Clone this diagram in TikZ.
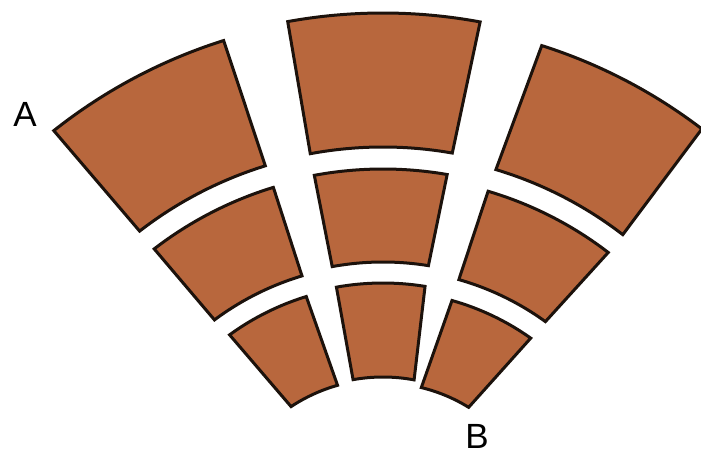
\documentclass[tikz,border=0pt]{standalone}
\usepackage{fontspec}
\setmainfont{Liberation Sans}
\definecolor{brick}{RGB}{184,103,61}
\definecolor{edge}{RGB}{28,18,12}
\tikzset{
  tile/.style={fill=brick, draw=edge, line width=3pt, line join=miter},
  lbl/.style={font=\fontsize{35}{35}\selectfont, text=black, inner sep=0pt}
}
% #1 outer-left angle, #2 outer-right angle, #3 inner-right angle, #4 inner-left angle, #5 outer radius, #6 inner radius
\newcommand{\tilepath}[6]{%
  \draw[tile] ([shift={(#1:#5)}]C) arc[start angle=#1, end angle=#2, radius=#5]
    -- ([shift={(#3:#6)}]C) arc[start angle=#3, end angle=#4, radius=#6] -- cycle;}
\begin{document}
\begin{tikzpicture}[x=1pt,y=1pt]
\useasboundingbox (0,0) rectangle (701,454);
\fill[white] (0,0) rectangle (701,454);
\coordinate (C) at (383,-92);
% outer row
\tilepath{128.4}{107.5}{107.2}{127.7}{530}{398}
\tilepath{100.3}{79.5}{80.0}{100.5}{533}{399}
\tilepath{72.4}{52.6}{52.4}{73.3}{525}{393}
% middle row
\tilepath{127.6}{107.0}{106.7}{126.7}{375}{282}
\tilepath{100.5}{80.2}{80.8}{100.3}{377}{284}
\tilepath{73.5}{52.5}{54.1}{74.1}{370}{277}
% inner row
\tilepath{126.0}{107.1}{105.8}{123.4}{261}{167}
\tilepath{100.2}{80.8}{79.4}{100.2}{263}{169}
\tilepath{74.3}{54.6}{58.3}{76.4}{255}{163}
\node[lbl] (A) at (25,340) {A};
\node[lbl] (B) at (477,18) {B};
\end{tikzpicture}
\end{document}
